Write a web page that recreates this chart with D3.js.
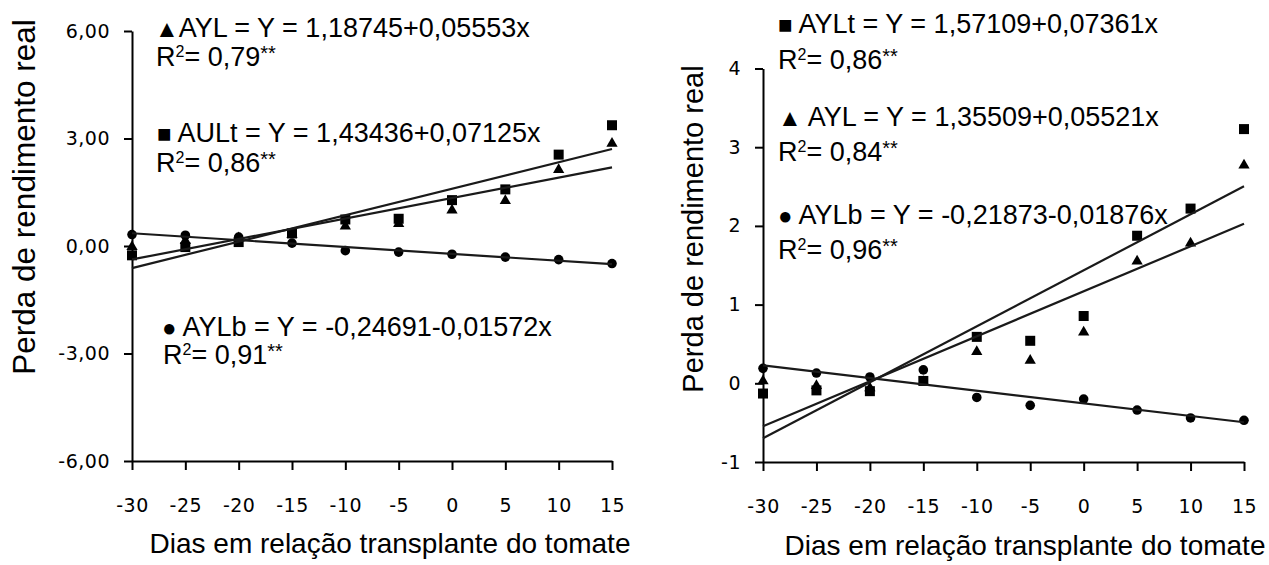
<!DOCTYPE html>
<html>
<head>
<meta charset="utf-8">
<script src="https://cdn.jsdelivr.net/npm/d3@7"></script>
<style>
  html, body { margin: 0; padding: 0; background: #fff; }
  svg { display: block; }
  .eq { font-family: "Liberation Sans", Arial, sans-serif; font-size: 27px; fill: #000; }
  .title { font-family: "Liberation Sans", Arial, sans-serif; font-size: 28px; fill: #000; }
  .tick text { font-family: "DejaVu Sans", sans-serif; font-size: 19px; letter-spacing: 0.5px; fill: #000; }
  .domain, .tick line { stroke: #000; stroke-width: 2px; }
</style>
</head>
<body>
<svg id="chart" width="1269" height="565"></svg>
<script>
// Days relative to tomato transplanting
const days = [-30, -25, -20, -15, -10, -5, 0, 5, 10, 15];

// Left panel series
const leftAULt = [-0.26, -0.03, 0.11, 0.35, 0.74, 0.76, 1.28, 1.58, 2.55, 3.37];
const leftAYL  = [-0.02, 0.15, 0.22, 0.32, 0.55, 0.62, 1.00, 1.26, 2.13, 2.86];
const leftAYLb = [0.32, 0.30, 0.25, 0.08, -0.13, -0.17, -0.23, -0.31, -0.38, -0.49];

// Right panel series
const rightAYLt = [-0.13, -0.09, -0.10, 0.03, 0.59, 0.54, 0.855, 1.875, 2.22, 3.23];
const rightAYL  = [0.03, -0.03, -0.06, 0.02, 0.40, 0.29, 0.65, 1.55, 1.78, 2.77];
const rightAYLb = [0.19, 0.13, 0.08, 0.17, -0.18, -0.28, -0.20, -0.34, -0.44, -0.47];

// Axis ticks
const xTicks = [-30, -25, -20, -15, -10, -5, 0, 5, 10, 15];
const leftYTicks = [-6, -3, 0, 3, 6];
const rightYTicks = [-1, 0, 1, 2, 3, 4];

// Regression legend texts
const leftLegend = [
  { sym: "\u25B2", name: "AYL = Y = 1,18745+0,05553x", r2: "0,79" },
  { sym: "\u25A0", name: " AULt = Y = 1,43436+0,07125x", r2: "0,86" },
  { sym: "\u25CF", name: " AYLb = Y = -0,24691-0,01572x", r2: "0,91" }
];
const rightLegend = [
  { sym: "\u25A0", name: " AYLt = Y = 1,57109+0,07361x", r2: "0,86" },
  { sym: "\u25B2", name: " AYL = Y = 1,35509+0,05521x", r2: "0,84" },
  { sym: "\u25CF", name: " AYLb = Y = -0,21873-0,01876x", r2: "0,96" }
];

const xTitle = "Dias em relação transplante do tomate";
const yTitle = "Perda de rendimento real";

const svg = d3.select("#chart");

// Ordinary least squares fit of a series against days
function fit(xs, ys) {
  const mx = d3.mean(xs), my = d3.mean(ys);
  let sxy = 0, sxx = 0;
  xs.forEach((x, i) => { sxy += (x - mx) * (ys[i] - my); sxx += (x - mx) * (x - mx); });
  const b = sxy / sxx;
  return { a: my - b * mx, b };
}

function panel(cfg) {
  const g = svg.append("g");
  const x = d3.scaleLinear().domain([-30, 15]).range(cfg.xRange);
  const y = d3.scaleLinear().domain(cfg.yDomain).range(cfg.yRange);

  // y axis
  const yAxis = d3.axisLeft(y).tickValues(cfg.yTicks).tickSize(8).tickSizeOuter(0)
    .tickPadding(cfg.yPad).tickFormat(cfg.yFormat);
  g.append("g").attr("transform", `translate(${cfg.xRange[0]},0)`).call(yAxis);

  // x axis
  const xAxis = d3.axisBottom(x).tickValues(xTicks).tickSize(9).tickSizeOuter(0)
    .tickPadding(35).tickFormat((d) => String(d));
  g.append("g").attr("transform", `translate(0,${cfg.yRange[0]})`).call(xAxis)
    .selectAll(".tick text").attr("dy", "0.35em");

  // markers
  const [sq, tri, cir] = cfg.series;
  g.append("g").selectAll("rect").data(days).join("rect")
    .attr("x", (d) => x(d) - 5).attr("y", (d, i) => y(sq[i]) - 5)
    .attr("width", 10).attr("height", 10).attr("fill", "#000");
  const triSym = d3.symbol().type(d3.symbolTriangle).size(55);
  g.append("g").selectAll("path").data(days).join("path")
    .attr("d", triSym)
    .attr("transform", (d, i) => `translate(${x(d)},${y(tri[i])})`)
    .attr("fill", "#000");
  g.append("g").selectAll("circle").data(days).join("circle")
    .attr("cx", (d) => x(d)).attr("cy", (d, i) => y(cir[i]))
    .attr("r", 4.8).attr("fill", "#000");

  // fitted trend lines
  [sq, tri, cir].forEach((s) => {
    const f = fit(days, s);
    g.append("line")
      .attr("x1", x(-30)).attr("y1", y(f.a + f.b * -30))
      .attr("x2", x(15)).attr("y2", y(f.a + f.b * 15))
      .attr("stroke", "#1a1a1a").attr("stroke-width", 2.2);
  });

  // regression legend
  cfg.legend.forEach((L, i) => {
    const t = g.append("text").attr("class", "eq")
      .attr("x", cfg.legX[i]).attr("y", cfg.legY[i][0]);
    t.append("tspan").style("font-size", "24px").text(L.sym);
    t.append("tspan").text(L.name);
    const r = g.append("text").attr("class", "eq")
      .attr("x", cfg.legRX[i]).attr("y", cfg.legY[i][1]);
    r.append("tspan").text("R");
    r.append("tspan").style("font-size", "16px").attr("dy", "-9").text("2");
    r.append("tspan").attr("dy", "9").text("= " + L.r2);
    r.append("tspan").style("font-size", "20px").attr("dy", "-6").text("**");
  });

  // axis titles
  g.append("text").attr("class", "title").attr("text-anchor", "middle")
    .attr("x", cfg.xTitlePos[0]).attr("y", cfg.xTitlePos[1]).text(xTitle);
  g.append("text").attr("class", "title").attr("text-anchor", "middle")
    .style("font-size", cfg.yTitleSize + "px")
    .attr("transform", `translate(${cfg.yTitlePos[0]},${cfg.yTitlePos[1]}) rotate(-90)`)
    .text(yTitle);
}

const fmtComma = (d) => d3.format(".2f")(d).replace("\u2212", "-").replace(".", ",");

panel({
  xRange: [132, 612], yDomain: [-6, 6], yRange: [461, 31],
  yTicks: leftYTicks, yFormat: fmtComma, yPad: 14,
  series: [leftAULt, leftAYL, leftAYLb],
  legend: leftLegend,
  legX: [155, 157, 162], legRX: [156, 156, 163],
  legY: [[37, 66], [142, 172], [336, 364]],
  xTitlePos: [390, 553], yTitlePos: [35, 197], yTitleSize: 31.5
});

panel({
  xRange: [763, 1244], yDomain: [-1, 4], yRange: [462, 68.5],
  yTicks: rightYTicks, yFormat: (d) => String(d), yPad: 14,
  series: [rightAYLt, rightAYL, rightAYLb],
  legend: rightLegend,
  legX: [778, 778, 778], legRX: [778, 778, 778],
  legY: [[33, 69], [126, 161], [224, 259]],
  xTitlePos: [1025, 555], yTitlePos: [703, 229], yTitleSize: 29
});
</script>
</body>
</html>
